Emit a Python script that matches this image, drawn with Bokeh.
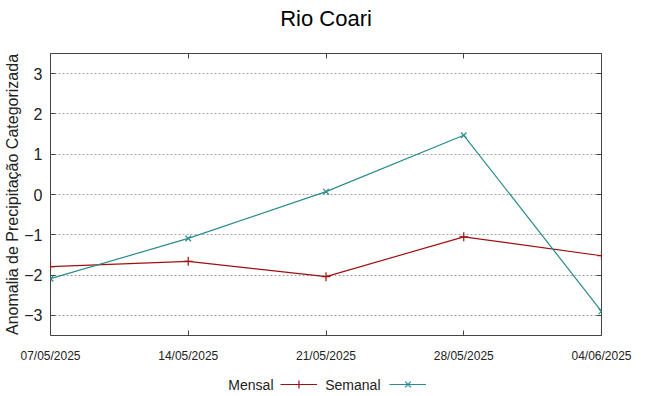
import pandas as pd
from bokeh.plotting import figure
from bokeh.layouts import column
from bokeh.models import (Range1d, FixedTicker, DatetimeTickFormatter, LinearAxis,
                          Legend, LegendItem, Label, ColumnDataSource, CustomJSTickFormatter)
from bokeh.embed import file_html
from bokeh.resources import INLINE

# ---- data ----
dates = ["2025-05-07", "2025-05-14", "2025-05-21", "2025-05-28", "2025-06-04"]
mensal = [-1.79, -1.66, -2.04, -1.05, -1.52]
semanal = [-2.09, -1.09, 0.07, 1.47, -2.90]
y_ticks = [-3, -2, -1, 0, 1, 2, 3]
series_names = ["Mensal", "Semanal"]
title_text = "Rio Coari"
y_label = "Anomalia de Precipitação Categorizada"

RED = "#a01010"
TEAL = "#2a8c8c"
FRAME = "#444444"
TXT = "#222222"
W = 645


def strip(h):
    f = figure(width=W, height=h, x_range=Range1d(0, 1), y_range=Range1d(0, h),
               output_backend="svg", toolbar_location=None,
               x_axis_location=None, y_axis_location=None,
               min_border_left=0, min_border_right=0, min_border_top=0, min_border_bottom=0)
    f.outline_line_color = None
    f.background_fill_color = "white"
    f.border_fill_color = "white"
    f.xgrid.visible = False
    f.ygrid.visible = False
    return f


x = pd.to_datetime(dates)
tick_ms = [t.timestamp() * 1000 for t in x]
src = ColumnDataSource(dict(x=x, mensal=mensal, semanal=semanal))

# ---- title strip ----
t = strip(36)
t.add_layout(Label(x=0.5, y=18, text=title_text, text_align="center", text_baseline="middle",
                   text_font="Liberation Sans", text_font_size="22px", text_color="#000000"))

# ---- main plot ----
p = figure(width=W, height=336, x_axis_type="datetime",
           x_range=Range1d(tick_ms[0], tick_ms[-1]), y_range=Range1d(-3.5, 3.5),
           output_backend="svg", toolbar_location=None,
           min_border_left=50, min_border_right=44, min_border_top=17, min_border_bottom=37)
p.background_fill_color = "white"
p.border_fill_color = "white"
p.outline_line_color = FRAME
p.outline_line_width = 1

fmt = "%d/%m/%Y"
xax = p.xaxis[0]
xax.ticker = FixedTicker(ticks=tick_ms)
xax.formatter = DatetimeTickFormatter(days=fmt, months=fmt, years=fmt, hours=fmt,
                                      hourmin=fmt, minutes=fmt, minsec=fmt, seconds=fmt,
                                      milliseconds=fmt, microseconds=fmt)
xax.major_label_text_font = "Liberation Sans"
xax.major_label_text_font_size = "12px"
xax.major_label_text_color = TXT
xax.major_label_standoff = 13

yax = p.yaxis[0]
yax.ticker = FixedTicker(ticks=y_ticks)
yax.major_label_text_font = "Liberation Sans"
yax.major_label_text_font_size = "16px"
yax.major_label_text_color = TXT
yax.major_label_standoff = 8
yax.axis_label = y_label
yax.axis_label_text_font = "Liberation Sans"
yax.axis_label_text_font_size = "16px"
yax.axis_label_text_font_style = "normal"
yax.axis_label_text_color = TXT
yax.axis_label_standoff = 0

blank = CustomJSTickFormatter(code="return ''")
top = LinearAxis(ticker=FixedTicker(ticks=tick_ms), formatter=blank)
right = LinearAxis(ticker=FixedTicker(ticks=y_ticks), formatter=blank)
p.add_layout(top, "above")
p.add_layout(right, "right")

for ax in [xax, yax, top, right]:
    ax.axis_line_color = None
    ax.major_tick_in = 5
    ax.major_tick_out = 0
    ax.minor_tick_line_color = None
    ax.major_tick_line_color = FRAME
for ax in [top, right]:
    ax.major_label_standoff = 0

p.xgrid.visible = False
p.ygrid.ticker = FixedTicker(ticks=y_ticks)
p.ygrid.grid_line_color = "#a0a0a0"
p.ygrid.grid_line_dash = "2 2"
p.ygrid.grid_line_width = 1

line_m = dict(line_color=RED, line_width=1.2)
mark_m = dict(marker="cross", size=9, line_color=RED, line_width=1.2)
line_s = dict(line_color=TEAL, line_width=1.2)
mark_s = dict(marker="x", size=8, line_color=TEAL, line_width=1.2)

p.line("x", "mensal", source=src, **line_m)
p.scatter("x", "mensal", source=src, **mark_m)
p.line("x", "semanal", source=src, **line_s)
p.scatter("x", "semanal", source=src, **mark_s)

# ---- key strip below the plot (gnuplot style: text, then sample) ----
k = strip(24)
km1 = k.line("x", "mensal", source=src, visible=False, **line_m)
km2 = k.scatter("x", "mensal", source=src, visible=False, **mark_m)
ks1 = k.line("x", "semanal", source=src, visible=False, **line_s)
ks2 = k.scatter("x", "semanal", source=src, visible=False, **mark_s)

legend = Legend(items=[LegendItem(label="", renderers=[km1, km2]),
                       LegendItem(label="", renderers=[ks1, ks2])],
                orientation="horizontal", location=(230, 2),
                glyph_width=37, glyph_height=20, label_width=0, label_height=20,
                label_standoff=0, spacing=72, padding=0, margin=0,
                border_line_alpha=0, background_fill_alpha=0)
k.add_layout(legend, "center")

for name, xr in zip(series_names, [223, 330]):
    k.add_layout(Label(x=xr, y=12, x_units="screen", text=name, text_align="right",
                       text_baseline="middle", text_font="Liberation Sans",
                       text_font_size="14px", text_color=TXT))

open("out.html", "w").write(file_html(column(t, p, k, spacing=0), INLINE))
